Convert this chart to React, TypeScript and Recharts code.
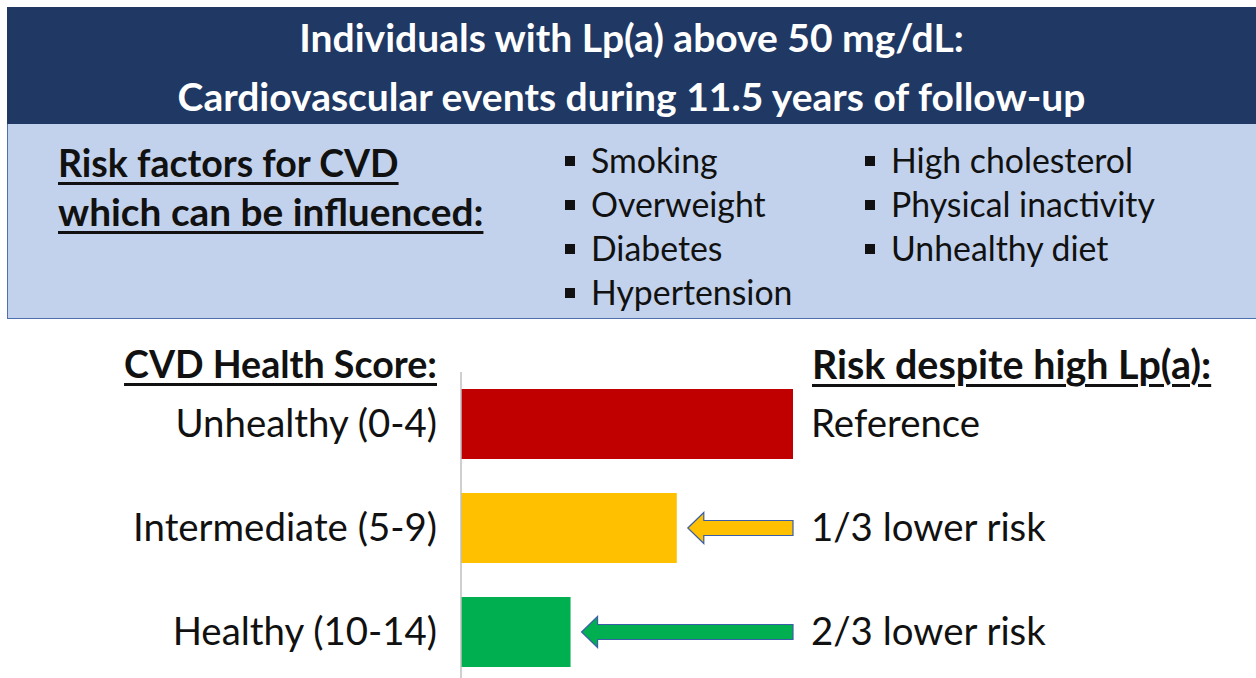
import React from "react";
import { BarChart, Bar, XAxis, YAxis, Cell, LabelList } from "recharts";

const categories = ["Unhealthy (0-4)", "Intermediate (5-9)", "Healthy (10-14)"];
const relativeRisk = [1, 0.65, 0.33];
const riskLabels = ["Reference", "1/3 lower risk", "2/3 lower risk"];
const barColors = ["#C00000", "#FFC000", "#00B050"];
const showArrow = [false, true, true];

const titleLines = ["Individuals with Lp(a) above 50 mg/dL:", "Cardiovascular events during 11.5 years of follow-up"];
const riskFactorHeading = ["Risk factors for CVD", "which can be influenced:"];
const riskFactorHeadingSizes = [37.5, 38.8];
const factorsCol1 = ["Smoking", "Overweight", "Diabetes", "Hypertension"];
const factorsCol2 = ["High cholesterol", "Physical inactivity", "Unhealthy diet"];
const leftHeading = "CVD Health Score:";
const rightHeading = "Risk despite high Lp(a):";

const data = categories.map((c, i) => ({
  category: c,
  value: relativeRisk[i],
  risk: riskLabels[i],
}));

const FONT = "Lato, 'Open Sans', sans-serif";
const TXT = 38.4;
const BULLET = 33.8;
const TITLE = 39;

const LeftTick = (props: any) => {
  const { x, y, payload } = props;
  return (
    <text x={x} y={y} dy="0.35em" textAnchor="end" fontFamily={FONT} fontSize={TXT} fill="#111">
      {payload.value}
    </text>
  );
};

const RightTick = (props: any) => {
  const { x, y, payload } = props;
  return (
    <text x={x} y={y} dy="0.35em" textAnchor="start" fontFamily={FONT} fontSize={TXT} fill="#111">
      {payload.value}
    </text>
  );
};

const ArrowLabel = (props: any) => {
  const { x, y, width, height, index } = props;
  if (!showArrow[index]) return null;
  const v = relativeRisk[index];
  const tail = x + width / v;
  const tip = x + width + 11;
  const cy = y + height / 2;
  const head = 16;
  const hh = 15.5;
  const sh = 7.5;
  const d = `M${tip},${cy} L${tip + head},${cy - hh} L${tip + head},${cy - sh} L${tail},${cy - sh} L${tail},${cy + sh} L${tip + head},${cy + sh} L${tip + head},${cy + hh} Z`;
  return <path d={d} fill={barColors[index]} stroke="#3A5FA8" strokeWidth={1.2} />;
};

const abs = (left: number, top: number, extra: React.CSSProperties = {}): React.CSSProperties => ({
  position: "absolute",
  left,
  top,
  whiteSpace: "nowrap",
  fontFamily: FONT,
  lineHeight: "44px",
  ...extra,
});

const underline: React.CSSProperties = {
  textDecoration: "underline",
  textDecorationThickness: "3px",
  textUnderlineOffset: "5px",
};

const Square = () => (
  <span
    style={{
      display: "inline-block",
      width: 10,
      height: 10,
      background: "#111",
      marginRight: 16,
      verticalAlign: "middle",
      position: "relative",
      top: -3,
    }}
  />
);

export default function App() {
  return (
    <div style={{ position: "absolute", left: 0, top: 0, width: 1256, height: 678, background: "#fff", overflow: "hidden" }}>
      <div style={{ position: "absolute", left: 7, top: 7, width: 1249, height: 117, background: "#203864" }} />
      <div
        style={{
          position: "absolute",
          left: 7,
          top: 124,
          width: 1249,
          height: 195,
          background: "#C2D2EC",
          borderLeft: "1px solid #4F6FAF",
          borderBottom: "1.5px solid #4F6FAF",
          boxSizing: "border-box",
        }}
      />
      {titleLines.map((t, i) => (
        <div
          key={t}
          style={abs(7, 15 + i * 59, {
            width: 1249,
            textAlign: "center",
            color: "#fff",
            fontWeight: 700,
            fontSize: TITLE,
          })}
        >
          {t}
        </div>
      ))}
      {riskFactorHeading.map((t, i) => (
        <div
          key={t}
          style={abs(58, 141 + i * 48, { fontWeight: 700, fontSize: riskFactorHeadingSizes[i], color: "#111", ...underline })}
        >
          {t}
        </div>
      ))}
      {factorsCol1.map((t, i) => (
        <div key={t} style={abs(565, 138 + i * 44, { fontSize: BULLET, color: "#111" })}>
          <Square />
          {t}
        </div>
      ))}
      {factorsCol2.map((t, i) => (
        <div key={t} style={abs(865, 138 + i * 44, { fontSize: BULLET, color: "#111" })}>
          <Square />
          {t}
        </div>
      ))}
      <div style={abs(0, 342, { width: 437, textAlign: "right", fontWeight: 700, fontSize: 37.6, color: "#111", ...underline })}>
        {leftHeading}
      </div>
      <div style={abs(812, 342, { fontWeight: 700, fontSize: 39.4, color: "#111", ...underline })}>{rightHeading}</div>
      <div style={{ position: "absolute", left: 0, top: 340 }}>
        <BarChart
          width={1256}
          height={360}
          data={data}
          layout="vertical"
          margin={{ top: 32, bottom: 16, left: 161, right: 23 }}
        >
          <XAxis type="number" domain={[0, 1]} hide />
          <YAxis
            yAxisId="left"
            type="category"
            dataKey="category"
            width={300}
            tickLine={false}
            tickSize={0}
            tickMargin={24}
            axisLine={{ stroke: "#BFBFBF", strokeWidth: 1.5 }}
            tick={<LeftTick />}
          />
          <YAxis
            yAxisId="right"
            orientation="right"
            type="category"
            dataKey="risk"
            width={440}
            tickLine={false}
            tickSize={0}
            tickMargin={18}
            axisLine={false}
            tick={<RightTick />}
          />
          <Bar dataKey="value" yAxisId="left" barSize={70} isAnimationActive={false}>
            {data.map((d, i) => (
              <Cell key={d.category} fill={barColors[i]} />
            ))}
            <LabelList dataKey="value" content={<ArrowLabel />} />
          </Bar>
        </BarChart>
      </div>
    </div>
  );
}
